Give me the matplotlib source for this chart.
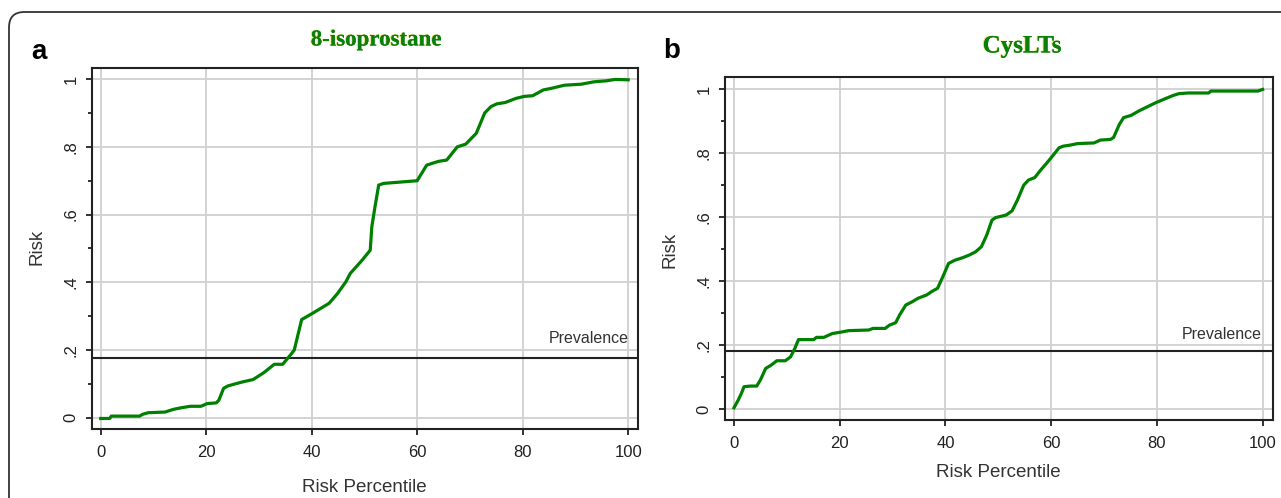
import matplotlib
matplotlib.use('Agg')
import matplotlib.pyplot as plt
import matplotlib.patheffects as pe
from matplotlib.patches import FancyBboxPatch

# panel a: 8-isoprostane (risk percentile vs predicted risk)
pct_a = [0, 1.7, 2.0, 7.4, 7.9, 9.0, 12.2, 13.8, 15.4, 17.0, 19.0, 20.2, 21.9, 22.4,
         23.3, 24.1, 25.7, 26.9, 28.9, 30.9, 32.9, 34.5, 36.1, 36.7, 37.3, 38.1,
         40.1, 41.7, 43.3, 44.9, 46.5, 47.3, 49.6, 51.1, 51.4, 52.0, 52.7, 53.6,
         55.2, 57.6, 60.0, 61.8, 64.0, 65.6, 67.6, 69.2, 71.2, 72.8, 74.0, 75.1,
         76.7, 78.7, 80.3, 81.9, 83.9, 85.5, 87.9, 91.1, 93.5, 95.9, 97.5, 100]
risk_a = [-0.002, -0.002, 0.005, 0.005, 0.010, 0.015, 0.017, 0.025, 0.030, 0.034,
          0.034, 0.042, 0.044, 0.052, 0.087, 0.094, 0.101, 0.106, 0.113, 0.133,
          0.158, 0.158, 0.188, 0.200, 0.239, 0.290, 0.308, 0.323, 0.338, 0.367,
          0.402, 0.426, 0.466, 0.495, 0.564, 0.623, 0.687, 0.692, 0.694, 0.697,
          0.700, 0.746, 0.757, 0.761, 0.800, 0.808, 0.840, 0.900, 0.919, 0.927,
          0.931, 0.943, 0.949, 0.951, 0.968, 0.973, 0.982, 0.985, 0.992, 0.995,
          0.999, 0.998]
prev_a = 0.177

# panel b: CysLTs
pct_b = [0, 0.8, 1.4, 1.9, 3.1, 4.3, 5.0, 6.0, 7.0, 8.1, 9.7, 10.7, 11.5, 12.2,
         15.1, 15.6, 17.0, 18.6, 20.1, 21.7, 25.5, 26.3, 28.6, 29.4, 30.6, 31.3,
         32.5, 33.7, 34.8, 36.4, 37.6, 38.5, 39.5, 40.6, 41.8, 43.3, 44.5, 45.7,
         46.8, 47.8, 48.8, 49.5, 51.5, 52.6, 53.6, 54.8, 55.7, 56.9, 58.0, 59.2,
         60.4, 61.5, 62.3, 63.5, 65.0, 68.1, 69.3, 71.2, 71.8, 72.9, 73.7, 75.1,
         76.6, 78.2, 79.7, 81.7, 83.2, 84.2, 85.9, 89.8, 90.2, 94.4, 99.1, 100]
risk_b = [0.005, 0.029, 0.050, 0.071, 0.073, 0.073, 0.092, 0.128, 0.138, 0.152,
          0.152, 0.164, 0.190, 0.218, 0.218, 0.225, 0.225, 0.237, 0.241, 0.246,
          0.248, 0.253, 0.253, 0.263, 0.271, 0.294, 0.326, 0.336, 0.347, 0.357,
          0.370, 0.378, 0.414, 0.456, 0.466, 0.474, 0.482, 0.492, 0.508, 0.544,
          0.591, 0.599, 0.607, 0.620, 0.653, 0.700, 0.716, 0.724, 0.747, 0.770,
          0.794, 0.817, 0.822, 0.825, 0.830, 0.832, 0.841, 0.843, 0.849, 0.890,
          0.911, 0.918, 0.932, 0.945, 0.957, 0.971, 0.981, 0.986, 0.988, 0.988,
          0.994, 0.994, 0.994, 0.999]
prev_b = 0.182

xticks = [0, 20, 40, 60, 80, 100]
yticks = [0, 0.2, 0.4, 0.6, 0.8, 1.0]
ytick_labels = ['0', '.2', '.4', '.6', '.8', '1']
yminor = [0.1, 0.3, 0.5, 0.7, 0.9]

W, H = 1281, 498
sans = ['Liberation Sans', 'DejaVu Sans']
fig = plt.figure(figsize=(W / 100, H / 100), dpi=100)


def px(x, y):
    return x / W, 1 - y / H


def panel(rect, xlim, ylim, pct, risk, prev, prev_xy):
    ax = fig.add_axes(rect)
    ax.set_xlim(*xlim)
    ax.set_ylim(*ylim)
    ax.set_xticks(xticks)
    ax.set_yticks(yticks)
    ax.set_yticks(yminor, minor=True)
    ax.set_yticklabels(ytick_labels, rotation=90, va='center')
    for lab in ax.get_xticklabels() + ax.get_yticklabels():
        lab.set_family(sans)
        lab.set_fontsize(12)
        lab.set_color('#222222')
    ax.tick_params(which='major', length=4.5, width=1.3, color='#222222')
    ax.tick_params(axis='x', pad=7)
    ax.tick_params(axis='y', pad=5)
    ax.tick_params(which='minor', length=3, width=1.3, color='#222222')
    ax.grid(True, which='major', color='#d0d0d0', lw=1.3)
    ax.set_axisbelow(True)
    for s in ax.spines.values():
        s.set_color('#222222')
        s.set_linewidth(1.5)
    ax.axhline(prev, color='#222222', lw=1.5, zorder=2)
    ax.plot(pct, risk, color='#008000', lw=2.3, zorder=3)
    ax.text(prev_xy[0], prev_xy[1], 'Prevalence', ha='right', va='center',
            family=sans, fontsize=11.5, color='#333333')
    return ax


panel([0.0716, 0.1386, 0.4262, 0.7243], (-1.7, 101.8), (-0.033, 1.032),
      pct_a, risk_a, prev_a, (100.2, 0.233))
panel([0.5657, 0.1566, 0.4278, 0.6882], (-1.76, 101.9), (-0.033, 1.037),
      pct_b, risk_b, prev_b, (99.8, 0.235))

shadow = [pe.withSimplePatchShadow(offset=(-0.8, 0.3), shadow_rgbFace='#d0c800', alpha=0.5),
          pe.Normal()]
fig.text(*px(376, 40), '8-isoprostane', ha='center', va='center', family='Liberation Serif',
         weight='bold', fontsize=16.5, color='#0a800a', path_effects=shadow)
fig.text(*px(1022, 46), 'CysLTs', ha='center', va='center', family='Liberation Serif',
         weight='bold', fontsize=18, color='#0a800a', path_effects=shadow)

fig.text(*px(38.7, 52), 'a', ha='center', va='center', family='Liberation Sans',
         weight='bold', fontsize=20)
fig.text(*px(672, 51), 'b', ha='center', va='center', family='Liberation Sans',
         weight='bold', fontsize=20)

for (x, y) in [(364.5, 487), (998, 472)]:
    fig.text(*px(x, y), 'Risk Percentile', ha='center', va='center', family=sans,
             fontsize=13.5, color='#333333')
for (x, y) in [(37, 247), (670, 250)]:
    fig.text(*px(x, y), 'Risk', ha='center', va='center', rotation=90, family=sans,
             fontsize=13.5, color='#333333')

# rounded outer frame, only the top-left part is inside the picture
frame = FancyBboxPatch(px(9, 560), 1.2, 548 / H, boxstyle='round,pad=0,rounding_size=0.012',
                       transform=fig.transFigure, fill=False, ec='#333333', lw=1.3,
                       mutation_aspect=W / H)
fig.patches.append(frame)

fig.savefig('out.png', dpi=100)
